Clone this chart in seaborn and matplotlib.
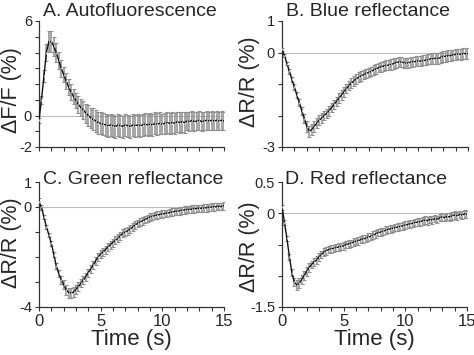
import numpy as np
import pandas as pd
import matplotlib
matplotlib.use('Agg')
import matplotlib.pyplot as plt
from matplotlib.ticker import MultipleLocator
import seaborn as sns

# sampling times (s), one sample every 0.2 s
time_s = np.linspace(0, 15, 76)

# A. Autofluorescence, dF/F (%)
auto_mean = [-0.3, 1.0, 2.5, 4.0, 4.7, 4.7, 4.4, 4.0, 3.5, 3.0,
             2.6, 2.2, 1.8, 1.5, 1.2, 0.95, 0.7, 0.5, 0.35, 0.15,
             0.0, -0.15, -0.25, -0.35, -0.45, -0.5, -0.55, -0.6, -0.65, -0.6,
             -0.65, -0.7, -0.6, -0.65, -0.7, -0.6, -0.65, -0.7, -0.6, -0.65,
             -0.6, -0.65, -0.6, -0.55, -0.6, -0.55, -0.6, -0.5, -0.55, -0.5,
             -0.55, -0.5, -0.45, -0.5, -0.45, -0.5, -0.4, -0.45, -0.4, -0.45,
             -0.35, -0.4, -0.3, -0.4, -0.35, -0.3, -0.4, -0.35, -0.3, -0.35,
             -0.3, -0.35, -0.3, -0.35, -0.3, -0.35]
auto_sem = [0.15, 0.25, 0.4, 0.55, 0.65, 0.65, 0.6, 0.6, 0.55, 0.55,
            0.5, 0.5, 0.5, 0.5, 0.5, 0.5, 0.55, 0.55, 0.6, 0.6,
            0.65, 0.65, 0.7, 0.7, 0.7, 0.7, 0.7, 0.7, 0.7, 0.7,
            0.7, 0.7, 0.7, 0.7, 0.7, 0.7, 0.7, 0.7, 0.7, 0.7,
            0.7, 0.7, 0.7, 0.7, 0.7, 0.7, 0.7, 0.7, 0.7, 0.7,
            0.65, 0.65, 0.65, 0.65, 0.65, 0.65, 0.65, 0.65, 0.65, 0.65,
            0.6, 0.6, 0.6, 0.6, 0.6, 0.6, 0.6, 0.6, 0.6, 0.6,
            0.6, 0.6, 0.6, 0.6, 0.6, 0.6]

# B. Blue reflectance, dR/R (%)
blue_mean = [0.1, -0.1, -0.35, -0.6, -0.85, -1.1, -1.35, -1.6, -1.85, -2.1,
             -2.35, -2.5, -2.45, -2.35, -2.25, -2.15, -2.08, -2.0, -1.93, -1.85,
             -1.75, -1.65, -1.55, -1.45, -1.35, -1.25, -1.15, -1.05, -0.97, -0.9,
             -0.84, -0.78, -0.74, -0.7, -0.66, -0.63, -0.6, -0.55, -0.52, -0.48,
             -0.45, -0.43, -0.41, -0.4, -0.38, -0.35, -0.32, -0.3, -0.3, -0.32,
             -0.34, -0.33, -0.3, -0.3, -0.28, -0.27, -0.28, -0.25, -0.25, -0.22,
             -0.2, -0.2, -0.18, -0.2, -0.15, -0.12, -0.12, -0.1, -0.1, -0.08,
             -0.06, -0.05, -0.06, -0.04, -0.03, -0.04]
blue_sem = [0.05, 0.05, 0.06, 0.07, 0.08, 0.09, 0.1, 0.11, 0.12, 0.14,
            0.16, 0.18, 0.18, 0.17, 0.16, 0.16, 0.15, 0.15, 0.15, 0.15,
            0.15, 0.15, 0.15, 0.15, 0.15, 0.15, 0.15, 0.15, 0.15, 0.15,
            0.15, 0.15, 0.15, 0.15, 0.15, 0.15, 0.15, 0.15, 0.15, 0.15,
            0.16, 0.16, 0.16, 0.16, 0.16, 0.16, 0.16, 0.16, 0.16, 0.16,
            0.16, 0.16, 0.16, 0.16, 0.16, 0.16, 0.16, 0.16, 0.16, 0.16,
            0.17, 0.17, 0.17, 0.17, 0.17, 0.17, 0.17, 0.17, 0.17, 0.17,
            0.17, 0.17, 0.17, 0.17, 0.17, 0.17]

# C. Green reflectance, dR/R (%)
green_mean = [0.2, 0.0, -0.4, -0.8, -1.1, -1.45, -1.9, -2.35, -2.65, -2.9,
              -3.1, -3.3, -3.42, -3.45, -3.4, -3.3, -3.18, -3.05, -2.92, -2.78,
              -2.62, -2.48, -2.32, -2.15, -2.0, -1.88, -1.8, -1.7, -1.6, -1.5,
              -1.42, -1.33, -1.25, -1.15, -1.05, -1.0, -0.95, -0.88, -0.8, -0.72,
              -0.65, -0.6, -0.55, -0.5, -0.45, -0.4, -0.37, -0.34, -0.32, -0.3,
              -0.28, -0.26, -0.25, -0.22, -0.2, -0.18, -0.17, -0.15, -0.13, -0.12,
              -0.1, -0.1, -0.08, -0.07, -0.06, -0.05, -0.05, -0.04, -0.03, -0.01,
              0.0, 0.01, 0.02, 0.02, 0.03, 0.05]
green_sem = [0.15, 0.1, 0.08, 0.08, 0.08, 0.09, 0.1, 0.12, 0.14, 0.16,
             0.18, 0.2, 0.2, 0.2, 0.2, 0.18, 0.17, 0.16, 0.16, 0.16,
             0.16, 0.16, 0.16, 0.16, 0.16, 0.16, 0.16, 0.16, 0.16, 0.16,
             0.16, 0.16, 0.16, 0.16, 0.16, 0.16, 0.16, 0.16, 0.16, 0.16,
             0.15, 0.15, 0.15, 0.15, 0.15, 0.15, 0.15, 0.15, 0.15, 0.15,
             0.15, 0.15, 0.15, 0.15, 0.15, 0.15, 0.15, 0.15, 0.15, 0.15,
             0.15, 0.15, 0.15, 0.15, 0.15, 0.15, 0.15, 0.15, 0.15, 0.15,
             0.15, 0.15, 0.15, 0.15, 0.15, 0.15]

# D. Red reflectance, dR/R (%)
red_mean = [0.1, -0.15, -0.4, -0.7, -0.95, -1.1, -1.15, -1.12, -1.06, -1.0,
            -0.93, -0.87, -0.82, -0.78, -0.75, -0.7, -0.66, -0.62, -0.6, -0.58,
            -0.57, -0.56, -0.55, -0.54, -0.53, -0.52, -0.5, -0.49, -0.48, -0.46,
            -0.45, -0.44, -0.42, -0.41, -0.4, -0.38, -0.37, -0.35, -0.33, -0.31,
            -0.3, -0.29, -0.27, -0.26, -0.25, -0.24, -0.23, -0.22, -0.21, -0.2,
            -0.19, -0.18, -0.17, -0.16, -0.15, -0.14, -0.14, -0.12, -0.11, -0.12,
            -0.1, -0.11, -0.08, -0.1, -0.07, -0.06, -0.07, -0.05, -0.06, -0.04,
            -0.03, -0.04, -0.02, -0.03, -0.01, -0.02]
red_sem = [0.04, 0.04, 0.04, 0.05, 0.06, 0.07, 0.08, 0.08, 0.07, 0.07,
           0.07, 0.07, 0.06, 0.06, 0.06, 0.06, 0.06, 0.06, 0.06, 0.06,
           0.06, 0.06, 0.06, 0.06, 0.06, 0.06, 0.06, 0.06, 0.06, 0.06,
           0.06, 0.06, 0.06, 0.06, 0.06, 0.06, 0.06, 0.06, 0.06, 0.06,
           0.06, 0.06, 0.06, 0.06, 0.06, 0.06, 0.06, 0.06, 0.06, 0.06,
           0.06, 0.06, 0.06, 0.06, 0.06, 0.06, 0.06, 0.06, 0.06, 0.06,
           0.06, 0.06, 0.06, 0.06, 0.06, 0.06, 0.06, 0.06, 0.06, 0.06,
           0.06, 0.06, 0.06, 0.06, 0.06, 0.06]

titles = ['A. Autofluorescence', 'B. Blue reflectance',
          'C. Green reflectance', 'D. Red reflectance']
ylabels = ['\u0394F/F (%)', '\u0394R/R (%)', '\u0394R/R (%)', '\u0394R/R (%)']
ylims = [(-2, 6), (-3, 1), (-4, 1), (-1.5, 0.5)]
yticks = [[-2, 0, 6], [-3, 0, 1], [-4, 0, 1], [-1.5, 0, 0.5]]
ytick_labels = [['-2', '0', '6'], ['-3', '0', '1'], ['-4', '0', '1'], ['-1.5', '0', '0.5']]
yminor = [1, 1, 1, 0.5]
xticks = [0, 5, 10, 15]

sns.set_style('ticks')
plt.rcParams['font.family'] = ['Liberation Sans', 'DejaVu Sans']
plt.rcParams['axes.unicode_minus'] = False

W, H = 474, 355
fig = plt.figure(figsize=(W / 100, H / 100), dpi=100)

# axes boxes in pixels: left, top, right, bottom
boxes = [(39, 21, 224, 147), (282, 21, 468, 147),
         (39, 182, 224, 307), (282, 182, 467, 307)]
title_pos = [(43, 16), (286, 16), (43, 184), (285, 184)]
ylabel_pos = [(12, 90), (249, 82), (12, 243), (249, 247)]

means = [auto_mean, blue_mean, green_mean, red_mean]
sems = [auto_sem, blue_sem, green_sem, red_sem]

for i in range(4):
    l, t, r, b = boxes[i]
    ax = fig.add_axes([l / W, 1 - b / H, (r - l) / W, (b - t) / H])
    df = pd.DataFrame({'time': time_s, 'mean': means[i], 'sem': sems[i]})

    ax.axhline(0, color='#bdbdbd', lw=0.8, zorder=1)
    ax.errorbar(df['time'], df['mean'], yerr=df['sem'], fmt='none',
                ecolor='#8e8e8e', elinewidth=1.1, capsize=1.3, capthick=0.8,
                zorder=2)
    sns.lineplot(data=df, x='time', y='mean', ax=ax, color='#111111', lw=1.0,
                 marker='|', markersize=2, markeredgewidth=0.5, zorder=3)

    ax.set_xlim(0, 15)
    ax.set_ylim(*ylims[i])
    ax.set_yticks(yticks[i])
    ax.set_yticklabels(ytick_labels[i])
    ax.yaxis.set_minor_locator(MultipleLocator(yminor[i]))
    ax.xaxis.set_minor_locator(MultipleLocator(1))
    ax.set_xticks(xticks)
    if i >= 2:
        ax.set_xticklabels([str(x) for x in xticks])
        ax.set_xlabel('Time (s)', fontsize=16, labelpad=0)
    else:
        ax.set_xticklabels([])
        ax.set_xlabel('')
    ax.set_ylabel('')
    ax.tick_params(which='both', direction='out', length=3, width=0.8,
                   color='#333333', pad=2)
    ax.tick_params(axis='x', labelsize=12)
    ax.tick_params(axis='y', labelsize=10.5)
    sns.despine(ax=ax)
    for s in ['left', 'bottom']:
        ax.spines[s].set_color('#333333')
        ax.spines[s].set_linewidth(0.9)

    tx, ty = title_pos[i]
    fig.text(tx / W, 1 - ty / H, titles[i], fontsize=14, ha='left', va='baseline')
    yx, yy = ylabel_pos[i]
    fig.text(yx / W, 1 - yy / H, ylabels[i], fontsize=15.5, rotation=90,
             ha='center', va='center')

fig.savefig('out.png', dpi=100)
